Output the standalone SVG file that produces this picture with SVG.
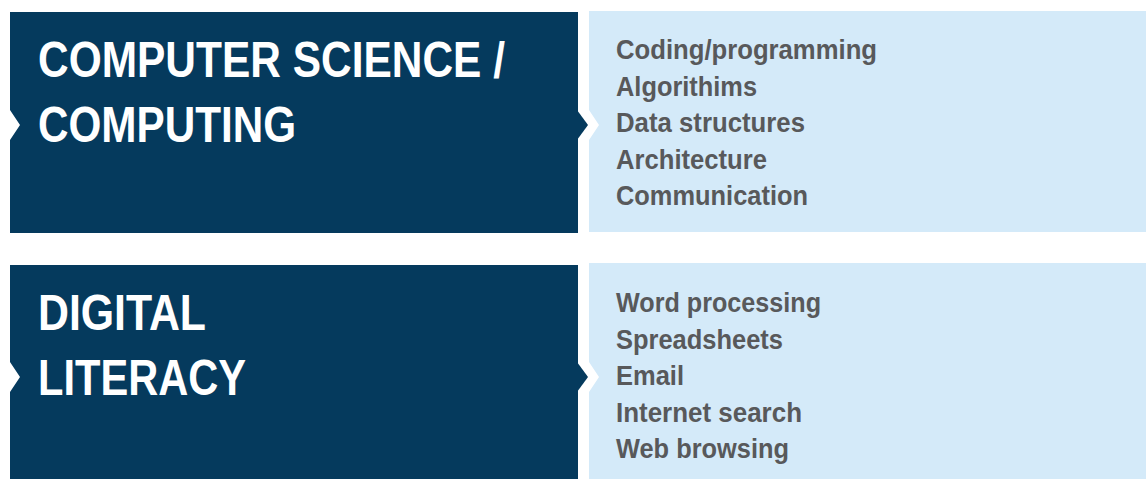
<svg xmlns="http://www.w3.org/2000/svg" width="1146" height="479" viewBox="0 0 1146 479">
  <style>
    .dark { fill: #053a5d; }
    .light { fill: #d4eaf9; }
    .head { font-family: "Liberation Sans", Arial, sans-serif; font-weight: bold; font-size: 50px; fill: #ffffff; }
    .item { font-family: "Liberation Sans", Arial, sans-serif; font-weight: bold; font-size: 28px; fill: #58595b; }
  </style>
  <rect width="1146" height="479" fill="#ffffff"/>
  <g id="node-cs">
    <path class="dark" d="M10,12 H578 V233 H10 V140 L20,125 L10,110 Z"/>
    <text class="head" x="38" y="77" textLength="467" lengthAdjust="spacingAndGlyphs">COMPUTER SCIENCE /</text>
    <text class="head" x="38" y="142" textLength="258" lengthAdjust="spacingAndGlyphs">COMPUTING</text>
  </g>
  <g id="node-cs-topics">
    <path class="light" d="M589,11 H1146 V232 H589 V140 L599,125 L589,110 Z"/>
    <text class="item" x="616" y="59" textLength="261" lengthAdjust="spacingAndGlyphs">Coding/programming</text>
    <text class="item" x="616" y="95.5" textLength="141" lengthAdjust="spacingAndGlyphs">Algorithims</text>
    <text class="item" x="616" y="132" textLength="189" lengthAdjust="spacingAndGlyphs">Data structures</text>
    <text class="item" x="616" y="168.5" textLength="151" lengthAdjust="spacingAndGlyphs">Architecture</text>
    <text class="item" x="616" y="205" textLength="192" lengthAdjust="spacingAndGlyphs">Communication</text>
  </g>
  <g id="node-dl">
    <path class="dark" d="M10,265 H578 V479 H10 V392 L20,377 L10,362 Z"/>
    <text class="head" x="38" y="330" textLength="168" lengthAdjust="spacingAndGlyphs">DIGITAL</text>
    <text class="head" x="38" y="395" textLength="208" lengthAdjust="spacingAndGlyphs">LITERACY</text>
  </g>
  <g id="node-dl-topics">
    <path class="light" d="M589,263 H1146 V479 H589 V392 L599,377 L589,362 Z"/>
    <text class="item" x="616" y="312" textLength="205" lengthAdjust="spacingAndGlyphs">Word processing</text>
    <text class="item" x="616" y="348.5" textLength="167" lengthAdjust="spacingAndGlyphs">Spreadsheets</text>
    <text class="item" x="616" y="385" textLength="68" lengthAdjust="spacingAndGlyphs">Email</text>
    <text class="item" x="616" y="421.5" textLength="186" lengthAdjust="spacingAndGlyphs">Internet search</text>
    <text class="item" x="616" y="458" textLength="173" lengthAdjust="spacingAndGlyphs">Web browsing</text>
  </g>
  <g id="connectors">
    <path class="dark" d="M577,110 L588,125 L577,140 Z"/>
    <path class="dark" d="M577,362 L588,377 L577,392 Z"/>
  </g>
</svg>
